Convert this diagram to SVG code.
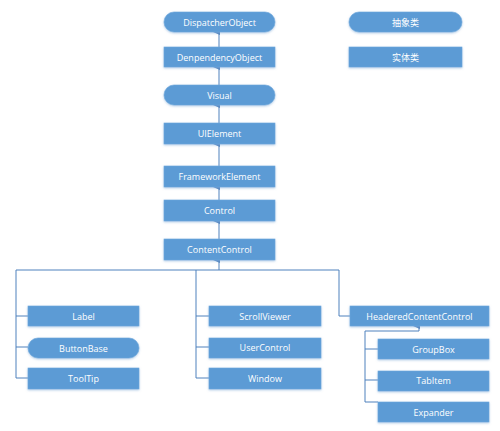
<svg xmlns="http://www.w3.org/2000/svg" width="500" height="431" viewBox="0 0 500 431">
<defs>
<marker id="arr" markerWidth="8" markerHeight="8" refX="4" refY="6" orient="auto-start-reverse" markerUnits="userSpaceOnUse" viewBox="0 0 8 8">
<path d="M1,7 L4,0 L7,7 Z" fill="#4f81bd"/>
</marker>
<filter id="sh" x="-10%" y="-30%" width="120%" height="170%">
<feDropShadow dx="0" dy="1" stdDeviation="0.8" flood-color="#7fa9d6" flood-opacity="0.6"/>
</filter>
</defs>
<style>
.b{fill:#5b9bd5;stroke:#6fa8dc;stroke-width:0.6;filter:url(#sh)}
.t{fill:#fff;font-family:"Open Sans","Noto Sans",sans-serif;font-size:9px;text-anchor:middle;dominant-baseline:central}
.c{fill:none;stroke:#4f81bd;stroke-width:1}
</style>
<rect width="500" height="431" fill="#fff"/>
<g id="connectors">
<line class="c" x1="219" y1="47" x2="219" y2="32" marker-end="url(#arr)"/>
<line class="c" x1="219" y1="85" x2="219" y2="67" marker-end="url(#arr)"/>
<line class="c" x1="219" y1="123" x2="219" y2="105" marker-end="url(#arr)"/>
<line class="c" x1="219" y1="166" x2="219" y2="144" marker-end="url(#arr)"/>
<line class="c" x1="219" y1="200" x2="219" y2="187" marker-end="url(#arr)"/>
<line class="c" x1="219" y1="239" x2="219" y2="221" marker-end="url(#arr)"/>
<line class="c" x1="219" y1="270" x2="219" y2="260" marker-end="url(#arr)"/>
<polyline class="c" points="16,270 339,270 339,316 350,316"/>
<polyline class="c" points="16,270 16,378 28,378"/>
<line class="c" x1="16" y1="316" x2="28" y2="316"/>
<line class="c" x1="16" y1="347" x2="28" y2="347"/>
<polyline class="c" points="196,270 196,378 209,378"/>
<line class="c" x1="196" y1="316" x2="209" y2="316"/>
<line class="c" x1="196" y1="347" x2="209" y2="347"/>
<line class="c" x1="419" y1="331" x2="419" y2="326" marker-end="url(#arr)"/>
<polyline class="c" points="419,331 365,331 365,402 378,402"/>
<line class="c" x1="365" y1="349" x2="378" y2="349"/>
<line class="c" x1="365" y1="380" x2="378" y2="380"/>
</g>
<g id="DispatcherObject"><rect class="b" x="164" y="12" width="111" height="20" rx="10"/><text class="t" x="219.5" y="22">DispatcherObject</text></g>
<g id="DenpendencyObject"><rect class="b" x="164" y="47" width="111" height="20"/><text class="t" x="219.5" y="57">DenpendencyObject</text></g>
<g id="Visual"><rect class="b" x="164" y="85" width="111" height="20" rx="10"/><text class="t" x="219.5" y="95">Visual</text></g>
<g id="UIElement"><rect class="b" x="164" y="123" width="111" height="21"/><text class="t" x="219.5" y="133.5">UIElement</text></g>
<g id="FrameworkElement"><rect class="b" x="164" y="166" width="111" height="21"/><text class="t" x="219.5" y="176.5">FrameworkElement</text></g>
<g id="Control"><rect class="b" x="164" y="200" width="111" height="21"/><text class="t" x="219.5" y="210.5">Control</text></g>
<g id="ContentControl"><rect class="b" x="164" y="239" width="111" height="21"/><text class="t" x="219.5" y="249.5">ContentControl</text></g>
<g id="legend-abstract"><rect class="b" x="349" y="12" width="113" height="20" rx="10"/><text class="t" x="405.5" y="22" style="font-family:'Noto Sans CJK SC',sans-serif">抽象类</text></g>
<g id="legend-concrete"><rect class="b" x="349" y="47" width="113" height="20"/><text class="t" x="405.5" y="57" style="font-family:'Noto Sans CJK SC',sans-serif">实体类</text></g>
<g id="Label"><rect class="b" x="28" y="306" width="111" height="20"/><text class="t" x="83.5" y="316">Label</text></g>
<g id="ButtonBase"><rect class="b" x="28" y="338" width="111" height="20" rx="10"/><text class="t" x="83.5" y="348">ButtonBase</text></g>
<g id="ToolTip"><rect class="b" x="28" y="368" width="111" height="21"/><text class="t" x="83.5" y="378">ToolTip</text></g>
<g id="ScrollViewer"><rect class="b" x="209" y="306" width="112" height="20"/><text class="t" x="265" y="316">ScrollViewer</text></g>
<g id="UserControl"><rect class="b" x="209" y="338" width="112" height="20"/><text class="t" x="265" y="347">UserControl</text></g>
<g id="Window"><rect class="b" x="209" y="368" width="112" height="21"/><text class="t" x="265" y="378">Window</text></g>
<g id="HeaderedContentControl"><rect class="b" x="350" y="306" width="139" height="20"/><text class="t" x="419.5" y="316">HeaderedContentControl</text></g>
<g id="GroupBox"><rect class="b" x="378" y="339" width="111" height="20"/><text class="t" x="433.5" y="349">GroupBox</text></g>
<g id="TabItem"><rect class="b" x="378" y="371" width="111" height="20"/><text class="t" x="433.5" y="380">TabItem</text></g>
<g id="Expander"><rect class="b" x="378" y="402" width="111" height="20"/><text class="t" x="433.5" y="412">Expander</text></g>
</svg>
